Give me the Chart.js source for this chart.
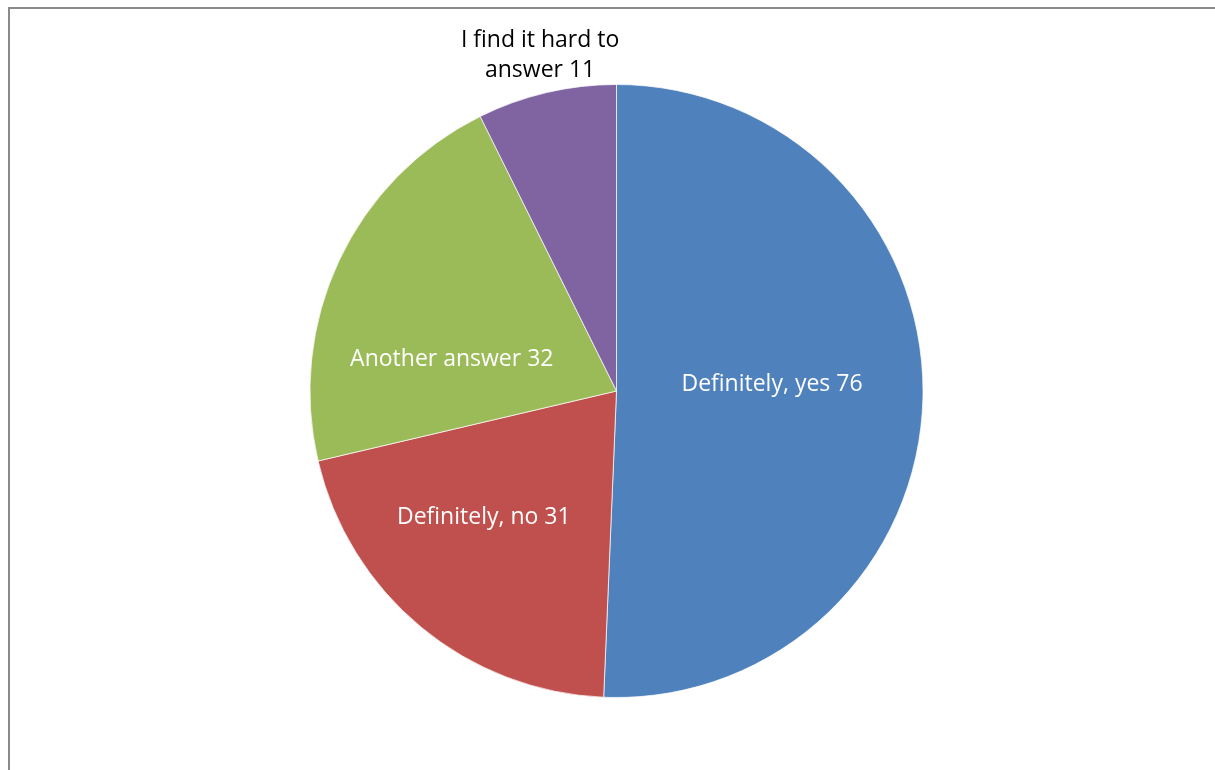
<!DOCTYPE html>
<html>
<head>
<meta charset="utf-8">
<script src="https://cdn.jsdelivr.net/npm/chart.js@4/dist/chart.umd.min.js"></script>
<style>
  html, body { margin: 0; padding: 0; background: #fff; overflow: hidden; }
  #frame {
    position: absolute; left: 8px; top: 7px; width: 1400px; height: 900px;
    border-left: 2px solid #8a8a8a; border-top: 2px solid #8a8a8a;
  }
  #myChart { position: absolute; left: 0; top: 0; }
</style>
</head>
<body>
<div id="frame"></div>
<canvas id="myChart" width="1215" height="770"></canvas>
<script>
// survey answers, clockwise from 12 o'clock
var answers = ['Definitely, yes', 'Definitely, no', 'Another answer', 'I find it hard to answer'];
var counts = [76, 31, 32, 11];
var sliceColors = ['#4F81BD', '#C0504D', '#9BBB59', '#8064A2'];

// label text lines, colour and where it sits: [angle shift from slice middle (deg), distance as part of radius]
var labelLines = [
	['Definitely, yes 76'],
	['Definitely, no 31'],
	['Another answer 32'],
	['I find it hard to', 'answer 11']
];
var labelColors = ['#ffffff', '#ffffff', '#ffffff', '#000000'];
var labelSpots = [[-4.1, 0.508], [7.1, 0.595], [-13.9, 0.548], [0.4, 1.125]];

var sliceLabels = {
	id: 'sliceLabels',
	afterDatasetsDraw: function(chart) {
		var ctx = chart.ctx;
		var meta = chart.getDatasetMeta(0);
		ctx.save();
		ctx.font = '23px "Open Sans", Lato, sans-serif';
		ctx.textAlign = 'center';
		ctx.textBaseline = 'middle';
		for (var i = 0; i < meta.data.length; i++) {
			var p = meta.data[i].getProps(['x', 'y', 'startAngle', 'endAngle', 'outerRadius'], true);
			var a = (p.startAngle + p.endAngle) / 2 + labelSpots[i][0] * Math.PI / 180;
			var r = p.outerRadius * labelSpots[i][1];
			var cx = p.x + Math.cos(a) * r;
			var cy = p.y + Math.sin(a) * r + 1;
			var lines = labelLines[i];
			var lh = 30;
			ctx.fillStyle = labelColors[i];
			for (var j = 0; j < lines.length; j++) {
				ctx.fillText(lines[j], cx, cy + (j - (lines.length - 1) / 2) * lh);
			}
		}
		ctx.restore();
	}
};

const myChart = new Chart(document.getElementById('myChart'), {
	type: 'pie',
	data: {
		labels: answers,
		datasets: [{
			data: counts,
			backgroundColor: sliceColors,
			borderColor: 'rgba(255,255,255,0.7)',
			borderWidth: 1,
			hoverOffset: 0
		}]
	},
	options: {
		responsive: false,
		animation: false,
		rotation: 0,
		layout: { padding: { left: 18, right: 0, top: 84, bottom: 72 } },
		plugins: {
			legend: { display: false },
			tooltip: { enabled: false }
		}
	},
	plugins: [sliceLabels]
});
</script>
</body>
</html>
